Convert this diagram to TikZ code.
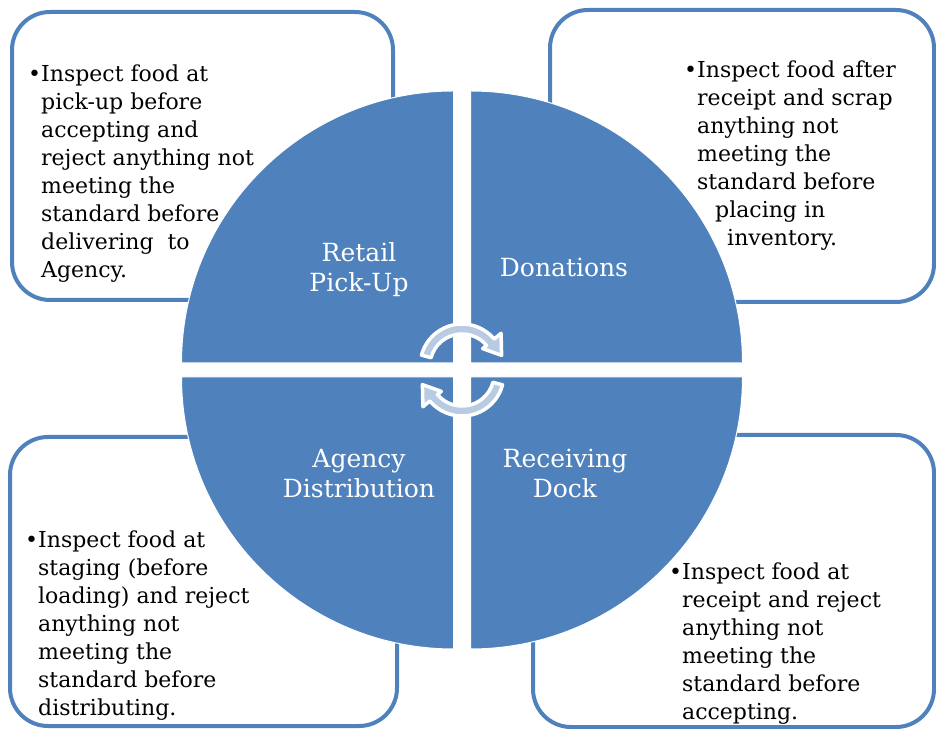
\documentclass[tikz,border=0pt]{standalone}
\usepackage{fontspec}
\setmainfont{DejaVu Serif}
\usepackage{xcolor}
\usetikzlibrary{positioning, calc}
\definecolor{qblue}{HTML}{4F81BD}
\definecolor{cycfill}{HTML}{B9CBE3}

\begin{document}
\begin{tikzpicture}[
            x=1pt, y=1pt,
            card/.style={rectangle, draw=qblue, line width=4pt, fill=white, rounded corners=38pt, inner sep=0pt},
            quad/.style={fill=qblue, draw=white, line width=1pt},
            lbl/.style={text=white, align=center, inner sep=0pt, font=\fontsize{25}{30}\selectfont},
            txt/.style={text=black, align=left, inner sep=0pt, font=\fontsize{22}{28}\selectfont},
            cyc/.style={fill=cycfill, draw=white, line width=3.5pt, line join=round}
        ]
            \useasboundingbox (0,0) rectangle (936,728);

% Text boxes
            \node[card, minimum width=381, minimum height=288] (pickupbox) at (202.5,572) {};
            \node[card, minimum width=384, minimum height=292] (donbox) at (742,572) {};
            \node[card, minimum width=387, minimum height=289] (agencybox) at (203.5,146.5) {};
            \node[card, minimum width=401, minimum height=292] (dockbox) at (733.5,147) {};

% Four quadrants
            \path[quad] (453.5,365) -- ++(180:272) arc[start angle=180, end angle=90, radius=272] -- cycle;
            \path[quad] (470.5,365) -- ++(90:272) arc[start angle=90, end angle=0, radius=272] -- cycle;
            \path[quad] (453.5,351) -- ++(270:272) arc[start angle=270, end angle=180, radius=272] -- cycle;
            \path[quad] (470.5,351) -- ++(0:272) arc[start angle=0, end angle=-90, radius=272] -- cycle;

            \node[lbl, anchor=base] (pickup) at (359,436) {Retail\\Pick-Up};
            \node[lbl, anchor=base] (donations) at (564,451) {Donations};
            \node[lbl, anchor=base] (agency) at (359,230) {Agency\\Distribution};
            \node[lbl, anchor=base] (dock) at (565,230) {Receiving\\Dock};

% Cycle arrows
            \begin{scope}[shift={(462,362)}]
                \path[cyc] (165:42) arc[start angle=165, end angle=40, radius=42] -- (40:51) -- (15:41)
                    -- (40:27) -- (40:32) arc[start angle=40, end angle=165, radius=32] -- cycle;
            \end{scope}
            \begin{scope}[shift={(462,354)}, rotate=180]
                \path[cyc] (165:42) arc[start angle=165, end angle=40, radius=42] -- (40:51) -- (15:41)
                    -- (40:27) -- (40:32) arc[start angle=40, end angle=165, radius=32] -- cycle;
            \end{scope}

% Bullet texts
            \node[txt, anchor=base west] (pickuptxt) at (41,450) {\llap{\textbullet}Inspect food at\\pick-up before\\accepting and\\reject anything not\\meeting the\\standard before\\delivering\ \ to\\Agency.};
            \node[txt, anchor=base west] (dontxt) at (697,482) {\llap{\textbullet}Inspect food after\\receipt and scrap\\anything not\\meeting the\\standard before\\\hspace*{18pt}placing in\\\hspace*{30pt}inventory.};
            \node[txt, anchor=base west] (agencytxt) at (38,13) {\llap{\textbullet}Inspect food at\\staging (before\\loading) and reject\\anything not\\meeting the\\standard before\\distributing.};
            \node[txt, anchor=base west] (docktxt) at (682,9) {\llap{\textbullet}Inspect food at\\receipt and reject\\anything not\\meeting the\\standard before\\accepting.};

        \end{tikzpicture}
\end{document}
